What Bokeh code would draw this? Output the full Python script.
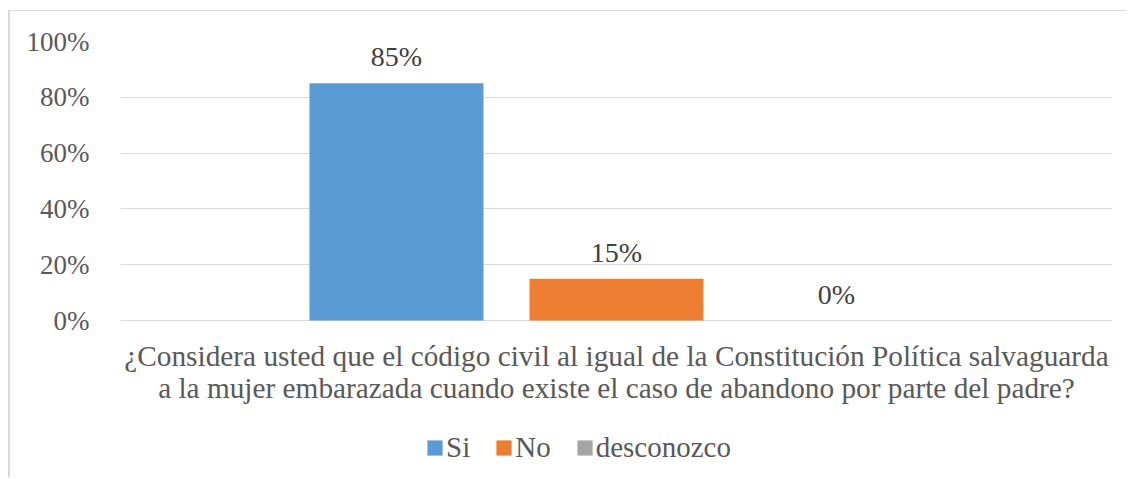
from bokeh.plotting import figure
from bokeh.models import (ColumnDataSource, FactorRange, FixedTicker, NumeralTickFormatter,
                          Legend, LegendItem, LabelSet, Range1d)
from bokeh.transform import dodge
from bokeh.core.properties import value
from bokeh.embed import file_html
from bokeh.resources import INLINE

question_lines = ["¿Considera usted que el código civil al igual de la Constitución Política salvaguarda",
                  "a la mujer embarazada cuando existe el caso de abandono por parte del padre?"]
question = "\n".join(question_lines)
series = ["Si", "No", "desconozco"]
values = [0.85, 0.15, 0.0]
labels = ["85%", "15%", "0%"]
colors = ["#5B9BD5", "#ED7D31", "#A5A5A5"]
y_ticks = [0, 0.2, 0.4, 0.6, 0.8, 1.0]

FONT = "Liberation Serif"

# layout: 279 px per 100 %, frame extended downward to host the category text and legend
PX_PER_UNIT = 279
FRAME_H = 436
y_start = 1 - FRAME_H / PX_PER_UNIT

p = figure(frame_width=992, frame_height=FRAME_H, x_range=FactorRange(factors=[question]),
           y_range=Range1d(y_start, 1), output_backend="svg", toolbar_location=None,
           min_border_left=110, min_border_right=14, min_border_top=30, min_border_bottom=0)
p.outline_line_color = None
p.background_fill_color = "white"
p.border_fill_color = "white"
p.styles = {"border-left": "2px solid #D9D9D9", "border-top": "1px solid #D9D9D9",
            "margin-top": "10px", "margin-left": "8px"}

step = 0.2218
bar_w = 0.1754
items = []
for i, (s, v, lab, c) in enumerate(zip(series, values, labels, colors)):
    src = ColumnDataSource(dict(x=[question], top=[v], label=[lab]))
    off = (i - 1) * step
    r = p.vbar(x=dodge("x", off, range=p.x_range), top="top", bottom=0, width=bar_w, source=src,
               fill_color=c, line_color=None)
    items.append(LegendItem(label=s, renderers=[r]))
    ls = LabelSet(x=dodge("x", off, range=p.x_range), y="top", text="label", source=src,
                  text_align="center", text_baseline="alphabetic", y_offset=17,
                  text_font=value(FONT), text_font_size="28px", text_color="#404040")
    p.add_layout(ls)

# category (question) text under the bars
for j, line in enumerate(question_lines):
    qsrc = ColumnDataSource(dict(x=[question], y=[0], text=[line]))
    p.add_layout(LabelSet(x="x", y="y", text="text", source=qsrc, text_align="center",
                          text_baseline="alphabetic", y_offset=-45 - 32 * j,
                          text_font=value(FONT), text_font_size="29.3px", text_color="#595959"))

p.yaxis.ticker = FixedTicker(ticks=y_ticks)
p.yaxis.formatter = NumeralTickFormatter(format="0%")
p.yaxis.axis_line_color = None
p.yaxis.major_tick_line_color = None
p.yaxis.minor_tick_line_color = None
p.yaxis.major_label_standoff = 25
p.yaxis.major_label_text_font = FONT
p.yaxis.major_label_text_font_size = "27px"
p.yaxis.major_label_text_color = "#595959"

p.xaxis.visible = False
p.xgrid.grid_line_color = None
p.ygrid.grid_line_color = "#D9D9D9"
p.ygrid.grid_line_width = 1

legend = Legend(items=items, orientation="horizontal", location=(305, 13),
                glyph_width=19, glyph_height=19, label_standoff=2, spacing=24,
                label_text_font=FONT, label_text_font_size="29px", label_text_color="#595959",
                border_line_color=None, background_fill_alpha=0, margin=0, padding=0)
p.add_layout(legend, "center")

open("out.html", "w").write(file_html(p, INLINE))
